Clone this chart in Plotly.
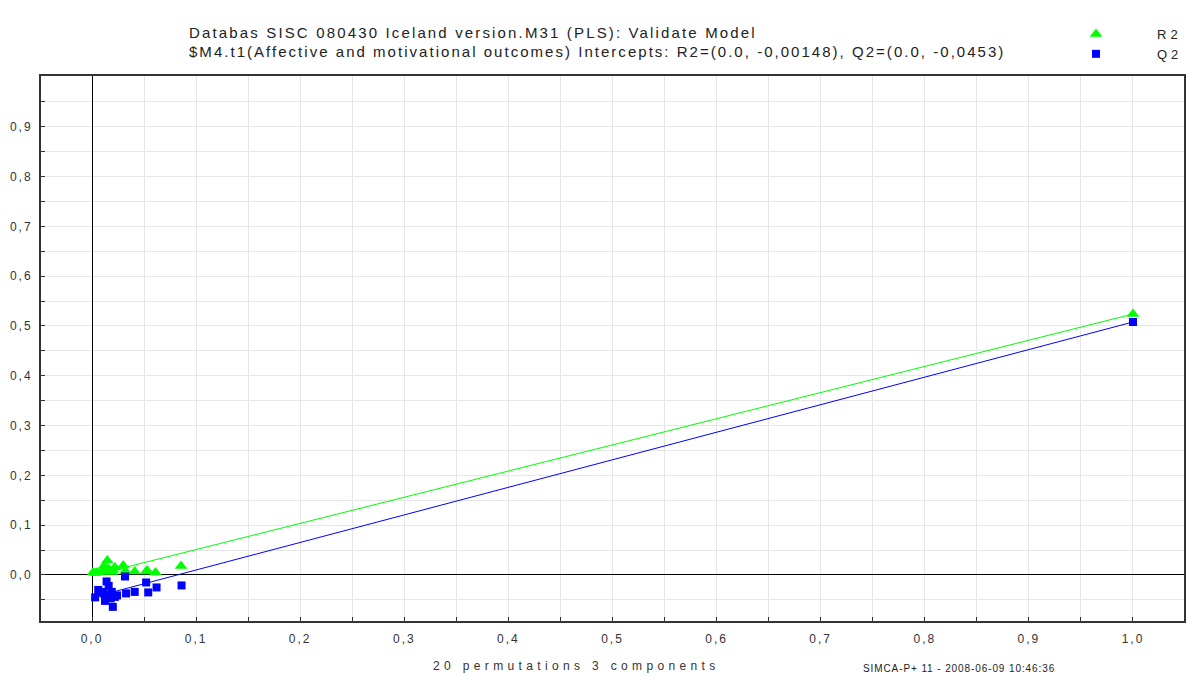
import plotly.graph_objects as go

# Permutation test results (correlation between permuted and original Y, R2/Q2)
r2_corr = [0.001, 0.005, 0.009, 0.011, 0.0115, 0.0147, 0.017, 0.020, 0.022, 0.030,
           0.032, 0.041, 0.052, 0.053, 0.061, 0.0855, 0.013, 0.019, 0.003, 0.016, 1.0]
r2_vals = [0.005, 0.005, 0.006, 0.007, 0.018, 0.029, 0.008, 0.010, 0.015, 0.019,
           0.008, 0.007, 0.007, 0.009, 0.005, 0.018, 0.010, 0.006, 0.004, 0.012, 0.524]
q2_corr = [0.003, 0.006, 0.009, 0.0125, 0.014, 0.016, 0.017, 0.019, 0.020, 0.022,
           0.0317, 0.0327, 0.041, 0.052, 0.054, 0.062, 0.086, 0.011, 0.018, 0.024, 1.0]
q2_vals = [-0.045, -0.030, -0.034, -0.052, -0.013, -0.022, -0.040, -0.034, -0.064, -0.044,
           -0.003, -0.037, -0.034, -0.015, -0.035, -0.025, -0.021, -0.037, -0.047, -0.041, 0.508]

# Regression lines (intercepts)
r2_line_x = [0.0, 1.0]
r2_line_y = [-0.00148, 0.524]
q2_line_x = [0.0, 1.0]
q2_line_y = [-0.0453, 0.508]

x_tick_vals = [0.0, 0.1, 0.2, 0.3, 0.4, 0.5, 0.6, 0.7, 0.8, 0.9, 1.0]
x_tick_text = ["0,0", "0,1", "0,2", "0,3", "0,4", "0,5", "0,6", "0,7", "0,8", "0,9", "1,0"]
y_tick_vals = [0.0, 0.1, 0.2, 0.3, 0.4, 0.5, 0.6, 0.7, 0.8, 0.9]
y_tick_text = ["0,0", "0,1", "0,2", "0,3", "0,4", "0,5", "0,6", "0,7", "0,8", "0,9"]

title1 = "Databas SISC 080430 Iceland version.M31 (PLS): Validate Model"
title2 = "$M4.t1(Affective and motivational outcomes) Intercepts: R2=(0.0, -0,00148), Q2=(0.0, -0,0453)"
x_title = "20 permutations 3 components"
footer = "SIMCA-P+ 11 - 2008-06-09 10:46:36"
series_names = ["R2", "Q2"]

GREEN = "#00ff00"
BLUE = "#0000ff"
FONT = "Liberation Sans"


def spaced(txt, px):
    return "<span style='letter-spacing:%spx'>%s</span>" % (px, txt)


fig = go.Figure()
fig.add_trace(go.Scatter(x=r2_line_x, y=r2_line_y, mode="lines",
                         line=dict(color=GREEN, width=1), showlegend=False, hoverinfo="skip"))
fig.add_trace(go.Scatter(x=q2_line_x, y=q2_line_y, mode="lines",
                         line=dict(color=BLUE, width=1), showlegend=False, hoverinfo="skip"))
fig.add_trace(go.Scatter(x=r2_corr, y=r2_vals, mode="markers", name=spaced(series_names[0], 4),
                         marker=dict(symbol="triangle-up", size=11, color=GREEN,
                                     line=dict(width=0))))
fig.add_trace(go.Scatter(x=q2_corr, y=q2_vals, mode="markers", name=spaced(series_names[1], 4),
                         marker=dict(symbol="square", size=8, color=BLUE,
                                     line=dict(width=0))))

axis_common = dict(
    showline=True, linecolor="#333333", linewidth=2, mirror=True,
    showgrid=True, gridcolor="#e6e6e6", gridwidth=1,
    zeroline=True, zerolinecolor="#000000", zerolinewidth=1,
    tickmode="array",
    ticks="inside", ticklen=4, tickcolor="#333333",
    tickfont=dict(family=FONT, size=12, color="#333333"),
    minor=dict(dtick=0.05, tick0=0, showgrid=True, gridcolor="#e6e6e6",
               ticklen=4, tickcolor="#333333", ticks="inside"),
)

fig.update_xaxes(range=[-0.049, 1.049], tickvals=x_tick_vals,
                 ticktext=[spaced(t, 2) for t in x_tick_text], ticklabelstandoff=6, **axis_common)
fig.update_yaxes(range=[-0.0924, 1.002], tickvals=y_tick_vals,
                 ticktext=[spaced(t, 2) for t in y_tick_text], ticklabelstandoff=4, **axis_common)

fig.update_layout(
    width=1187, height=677,
    margin=dict(l=41, r=3, t=76, b=56, autoexpand=False),
    paper_bgcolor="white", plot_bgcolor="white",
    font=dict(family=FONT, color="#222222"),
    showlegend=True,
    legend=dict(x=1035 / 1187, y=1 - 19 / 677, xref="container", yref="container",
                xanchor="left", yanchor="top",
                bgcolor="rgba(0,0,0,0)", font=dict(family=FONT, size=13, color="#222222"),
                itemwidth=112, tracegroupgap=0),
    annotations=[
        dict(text=spaced(title1, 2.15), xref="paper", yref="paper", x=(187 - 41) / 1143,
             y=1 + (76 - 33) / 545, xanchor="left", yanchor="middle", showarrow=False,
             font=dict(family=FONT, size=15, color="#222222")),
        dict(text=spaced(title2, 2.03), xref="paper", yref="paper", x=(187 - 41) / 1143,
             y=1 + (76 - 51) / 545, xanchor="left", yanchor="middle", showarrow=False,
             font=dict(family=FONT, size=15, color="#222222")),
        dict(text=spaced(x_title, 4.35), xref="paper", yref="paper", x=(576 - 41) / 1143,
             y=-(666 - 621) / 545, xanchor="center", yanchor="middle", showarrow=False,
             font=dict(family=FONT, size=12, color="#333333")),
        dict(text=spaced(footer, 0.9), xref="paper", yref="paper", x=(959 - 41) / 1143,
             y=-(668 - 621) / 545, xanchor="center", yanchor="middle", showarrow=False,
             font=dict(family=FONT, size=10, color="#222222")),
    ],
)

fig.write_html("out.html", config={"displayModeBar": False},
               post_script="document.body.style.margin='0px';")
